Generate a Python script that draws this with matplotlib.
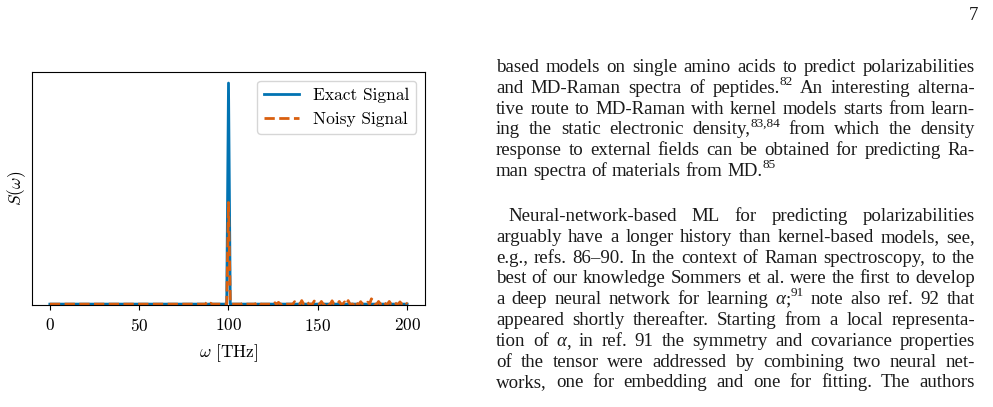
import re
import matplotlib
matplotlib.use("Agg")
import matplotlib.pyplot as plt
import numpy as np

# datos del espectro (frecuencias en THz, intensidad normalizada)
freq = np.arange(0, 201, 1.0)
peak_freq = 100.0
exact_peak = 1.0
noisy_peak = 0.46
# pequenos picos del ruido
bump_freq = [88, 90, 101, 108, 116, 117, 126, 128, 131, 137, 141, 144, 148, 152, 155, 158,
             162, 165, 167, 171, 174, 178, 180, 181, 184, 187, 190, 193, 196, 199]
bump_amp = [0.008, 0.004, 0.012, 0.004, 0.009, 0.007, 0.006, 0.008, 0.005, 0.011, 0.016, 0.010,
            0.014, 0.012, 0.009, 0.015, 0.012, 0.010, 0.016, 0.013, 0.011, 0.009, 0.024, 0.014,
            0.012, 0.010, 0.012, 0.008, 0.010, 0.009]

xticks = [0, 50, 100, 150, 200]
legend_labels = ["Exact Signal", "Noisy Signal"]

# texto de la columna derecha
page_number = "7"
para1 = [
    "based models on single amino acids to predict polarizabilities",
    "and MD-Raman spectra of peptides.^{82} An interesting alterna-",
    "tive route to MD-Raman with kernel models starts from learn-",
    "ing the static electronic density,^{83,84} from which the density",
    "response to external fields can be obtained for predicting Ra-",
    "man spectra of materials from MD.^{85}",
]
para2 = [
    "Neural-network-based ML for predicting polarizabilities",
    "arguably have a longer history than kernel-based models, see,",
    "e.g., refs. 86\u201390. In the context of Raman spectroscopy, to the",
    "best of our knowledge Sommers et al. were the first to develop",
    "a deep neural network for learning \u03b1;^{91} note also ref. 92 that",
    "appeared shortly thereafter. Starting from a local representa-",
    "tion of \u03b1, in ref. 91 the symmetry and covariance properties",
    "of the tensor were addressed by combining two neural net-",
    "works, one for embedding and one for fitting. The authors",
]

# series
exact = np.zeros_like(freq)
exact[freq == peak_freq] = exact_peak
noisy = np.zeros_like(freq)
noisy[freq == peak_freq] = noisy_peak
for f, a in zip(bump_freq, bump_amp):
    noisy[freq == f] = a

plt.rcParams["font.family"] = "serif"
plt.rcParams["font.serif"] = ["cmr10"]
plt.rcParams["mathtext.fontset"] = "cm"
plt.rcParams["axes.formatter.use_mathtext"] = True
plt.rcParams["axes.unicode_minus"] = False

W, H = 993, 407
fig = plt.figure(figsize=(W / 100, H / 100), dpi=100)
ax = fig.add_axes([32 / W, 1 - 305 / H, (425 - 32) / W, (305 - 72) / H])

ax.plot(freq, exact, color="#0173b2", lw=2.0, label=legend_labels[0])
ax.plot(freq, noisy, color="#d95f0e", lw=2.0, ls="--", label=legend_labels[1])
ax.set_xlim(-10, 210)
ax.set_ylim(-0.004, 1.05)
ax.set_xticks(xticks)
ax.set_yticks([])
ax.tick_params(axis="x", labelsize=12.5, pad=5)
ax.set_xlabel(r"$\omega$ [THz]", fontsize=12.5, labelpad=6)
ax.set_ylabel(r"$S(\omega)$", fontsize=12.5, labelpad=3)
ax.legend(loc="upper right", fontsize=12.5)

# columna de texto justificada
fs = 13.6
left, right = 496, 975
renderer = fig.canvas.get_renderer()


def parse(tok):
    segs = []
    for part in re.findall(r"\^\{[^}]*\}|\u03b1|[^\u03b1^]+", tok):
        if part.startswith("^{"):
            segs.append((part[2:-1], "s"))
        elif part == "\u03b1":
            segs.append((part, "i"))
        else:
            segs.append((part, "n"))
    return segs


def make(s, kind, x, y):
    kw = dict(family="Liberation Serif", color="#1a1a1a", va="baseline", ha="left",
              transform=None)
    if kind == "s":
        t = fig.text(x, y + fs * 0.42 * 100 / 72, s, fontsize=fs * 0.7, **kw)
    elif kind == "i":
        t = fig.text(x, y, s, fontsize=fs, style="italic", **kw)
    else:
        t = fig.text(x, y, s, fontsize=fs, **kw)
    return t


def draw_line(line, ytop, x0, justify):
    y = H - ytop
    words = []
    total = 0.0
    for tok in line.split():
        texts = []
        w = 0.0
        for s, kind in parse(tok):
            t = make(s, kind, 0, y)
            tw = t.get_window_extent(renderer).width
            if kind == "s":
                tw -= 1.0
            texts.append((t, tw))
            w += tw
        words.append((texts, w))
        total += w
    space_w = make("a a", "n", 0, y)
    sw = space_w.get_window_extent(renderer).width - 2 * make("a", "n", 0, y).get_window_extent(renderer).width
    for t in fig.texts[-2:]:
        t.remove()
    if justify and len(words) > 1:
        gap = (right - x0 - total) / (len(words) - 1)
    else:
        gap = sw
    x = x0
    for texts, w in words:
        for t, tw in texts:
            t.set_x(x)
            x += tw
        x += gap


spacing = 20.8
for i, line in enumerate(para1):
    draw_line(line, 72 + i * spacing, left, i < len(para1) - 1)
for i, line in enumerate(para2):
    draw_line(line, 221 + i * spacing, left + 12 if i == 0 else left, True)

fig.text(right + 3, H - 20, page_number, family="Liberation Serif", fontsize=fs,
         color="#1a1a1a", ha="right", va="baseline", transform=None)

fig.savefig("out.png", dpi=100)
